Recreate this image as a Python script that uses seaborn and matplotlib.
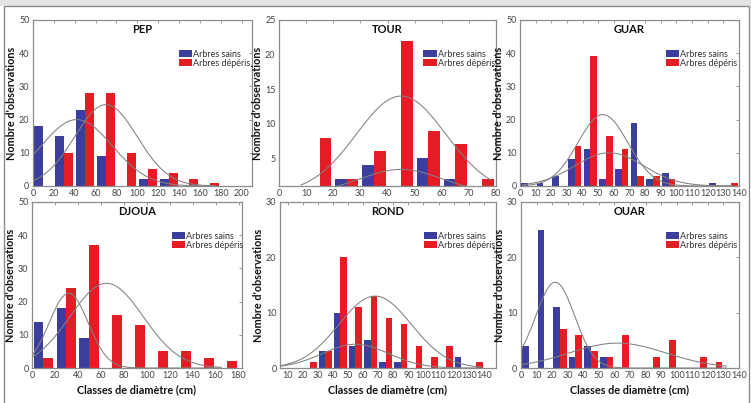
import numpy as np
import pandas as pd
import matplotlib
matplotlib.use('Agg')
import matplotlib.pyplot as plt
from matplotlib.patches import Patch, Rectangle
import seaborn as sns

# Bar counts per diameter class (Arbres sains / Arbres dépéris)
pep_bins = [0, 20, 40, 60, 80, 100, 120, 140, 160, 180]
pep_sains = [18, 15, 23, 9, 0, 2, 2, 0, 0, 0]
pep_deperis = [0, 10, 28, 28, 10, 5, 4, 2, 1, 0]

tour_bins = [0, 10, 20, 30, 40, 50, 60, 70]
tour_sains = [0, 0, 2, 4, 0, 5, 2, 0]
tour_deperis = [0, 8, 2, 6, 22, 9, 7, 2]

guar_bins = [0, 10, 20, 30, 40, 50, 60, 70, 80, 90, 100, 110, 120, 130]
guar_sains = [1, 1, 3, 8, 11, 2, 5, 19, 2, 4, 0, 0, 1, 0]
guar_deperis = [0, 0, 0, 12, 39, 15, 11, 3, 3, 2, 0, 0, 0, 1]

djoua_bins = [0, 20, 40, 60, 80, 100, 120, 140, 160]
djoua_sains = [14, 18, 9, 0, 0, 0, 0, 0, 0]
djoua_deperis = [3, 24, 37, 16, 13, 5, 5, 3, 2]

rond_bins = [20, 30, 40, 50, 60, 70, 80, 90, 100, 110, 120, 130]
rond_sains = [0, 3, 10, 4, 5, 1, 1, 0, 0, 0, 2, 0]
rond_deperis = [1, 3, 20, 11, 13, 9, 8, 4, 2, 4, 0, 1]

ouar_bins = [0, 10, 20, 30, 40, 50, 60, 70, 80, 90, 100, 110, 120]
ouar_sains = [4, 25, 11, 2, 4, 2, 0, 0, 0, 0, 0, 0, 0]
ouar_deperis = [0, 0, 7, 6, 3, 2, 6, 0, 2, 5, 0, 2, 1]

# Fitted normal curves: (mean, sd, peak)
fit_sains = {'PEP': (42, 34, 20), 'TOUR': (45, 15, 3.4), 'GUAR': (57, 22, 10),
             'DJOUA': (32, 17, 22.5), 'ROND': (55, 22, 4.3), 'OUAR': (22, 12.5, 15.5)}
fit_deperis = {'PEP': (70, 30, 24.5), 'TOUR': (45, 16.5, 14), 'GUAR': (53, 16, 21.5),
               'DJOUA': (65, 32, 25.5), 'ROND': (68, 24, 13), 'OUAR': (62, 31, 4.5)}
curve_span = {'PEP': (0, 175), 'TOUR': (8, 78), 'GUAR': (2, 136),
              'DJOUA': (0, 165), 'ROND': (5, 138), 'OUAR': (0, 132)}

BLUE = '#3c3e9e'
RED = '#e41d24'
GREY = '#808080'
labels = ['Arbres sains', 'Arbres dépéris']

panels = [
    # name, bins, width, sains, deperis, xlim, xticks, ylim, yticks, axes rect
    ('PEP', pep_bins, 20, pep_sains, pep_deperis, (0, 210), range(0, 201, 20),
     (0, 50), range(0, 51, 10), [0.0439, 0.5385, 0.2916, 0.412]),
    ('TOUR', tour_bins, 10, tour_sains, tour_deperis, (0, 80), range(0, 81, 10),
     (1, 25), range(5, 26, 5), [0.3715, 0.5385, 0.289, 0.412]),
    ('GUAR', guar_bins, 10, guar_sains, guar_deperis, (0, 140), range(0, 141, 10),
     (0, 50), range(0, 51, 10), [0.6924, 0.5385, 0.2916, 0.412]),
    ('DJOUA', djoua_bins, 20, djoua_sains, djoua_deperis, (0, 183), range(0, 181, 20),
     (0, 50), range(0, 51, 10), [0.0426, 0.0868, 0.2796, 0.412]),
    ('ROND', rond_bins, 10, rond_sains, rond_deperis, (5, 148), range(10, 141, 10),
     (0, 30), range(0, 31, 10), [0.3728, 0.0868, 0.2876, 0.412]),
    ('OUAR', ouar_bins, 10, ouar_sains, ouar_deperis, (0, 140), range(0, 141, 10),
     (0, 30), range(0, 31, 10), [0.6937, 0.0868, 0.2903, 0.412]),
]

sns.set_style('white')
plt.rcParams['font.family'] = ['Liberation Sans Narrow', 'DejaVu Sans Condensed', 'Lato', 'DejaVu Sans']

fig = plt.figure(figsize=(7.51, 4.03), dpi=100)

# outer frame of the figure
fig.add_artist(Rectangle((0, 1 - 6 / 403), 1, 6 / 403, transform=fig.transFigure,
                         facecolor='#e4e4e4', edgecolor='none'))
fig.add_artist(Rectangle((4 / 751, -0.01), 745 / 751, 1 - 6 / 403 + 0.01,
                         transform=fig.transFigure, facecolor='none',
                         edgecolor='#8c8c8c', linewidth=1.0))

for i, (name, bins, w, sains, dep, xlim, xticks, ylim, yticks, rect) in enumerate(panels):
    ax = fig.add_axes(rect)
    df = pd.DataFrame({
        'diam': list(bins) * 2,
        'n': sains + dep,
        'etat': [labels[0]] * len(bins) + [labels[1]] * len(bins),
    })
    sns.histplot(data=df, x='diam', weights='n', hue='etat', hue_order=labels,
                 palette={labels[0]: BLUE, labels[1]: RED}, multiple='dodge',
                 binwidth=w, binrange=(bins[0], bins[-1] + w), shrink=0.86,
                 alpha=1, linewidth=0, legend=False, ax=ax)

    for fit in (fit_sains, fit_deperis):
        mu, sd, peak = fit[name]
        xs = np.linspace(curve_span[name][0], curve_span[name][1], 200)
        ys = peak * np.exp(-0.5 * ((xs - mu) / sd) ** 2)
        sns.lineplot(x=xs, y=ys, color=GREY, linewidth=0.75, ax=ax)

    ax.set_xlim(*xlim)
    ax.set_ylim(*ylim)
    ax.set_xticks(list(xticks))
    ax.set_yticks(list(yticks))
    ax.tick_params(direction='in', length=2, width=0.6, colors='#8c8c8c',
                   labelcolor='#444444', labelsize=6.5, pad=2.5,
                   top=True, right=True)
    for s in ax.spines.values():
        s.set_color('#8c8c8c')
        s.set_linewidth(0.9)

    ax.text(0.5, 0.94, name, transform=ax.transAxes, ha='center', va='center',
            fontsize=8, fontweight='bold', color='#111111')
    ax.set_ylabel("Nombre d'observations", fontsize=7.8, fontweight='bold',
                  color='#111111', labelpad=1.5)
    if i >= 3:
        ax.set_xlabel('Classes de diamètre (cm)', fontsize=7.8, fontweight='bold',
                      color='#111111', labelpad=3)
    else:
        ax.set_xlabel('')

    handles = [Patch(facecolor=BLUE, edgecolor='none'), Patch(facecolor=RED, edgecolor='none')]
    ax.legend(handles, labels, loc='upper left', bbox_to_anchor=(0.665, 0.82),
              frameon=False, fontsize=6.5, handlelength=1.5, handleheight=0.75,
              handletextpad=0.1, labelspacing=0.0, borderpad=0, borderaxespad=0,
              labelcolor='#333333')

plt.savefig('out.png', dpi=100)
plt.close()
